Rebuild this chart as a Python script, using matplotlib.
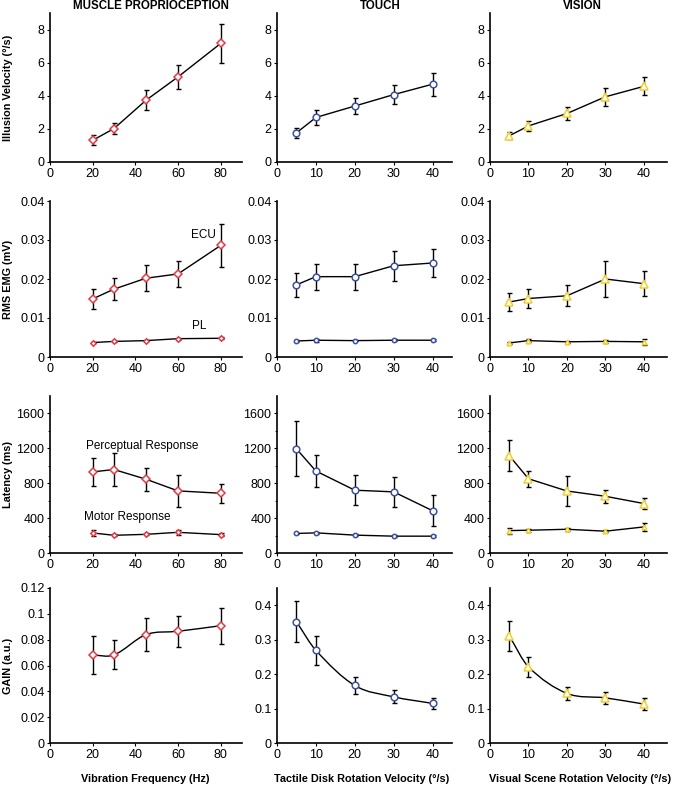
import numpy as np
import matplotlib
matplotlib.use("Agg")
import matplotlib.pyplot as plt
from matplotlib.path import Path
from matplotlib.patches import PathPatch

plt.rcParams['font.family'] = ['Liberation Sans', 'DejaVu Sans']

# x values
freq = [20, 30, 45, 60, 80]
vel = [5, 10, 20, 30, 40]

# illusion velocity (deg/s)
iv_muscle = [1.31, 2.02, 3.73, 5.14, 7.16]
iv_muscle_err = [0.30, 0.33, 0.60, 0.73, 1.18]
iv_touch = [1.76, 2.69, 3.38, 4.07, 4.70]
iv_touch_err = [0.30, 0.43, 0.46, 0.56, 0.70]
iv_vision = [1.58, 2.18, 2.93, 3.94, 4.57]
iv_vision_err = [0.22, 0.32, 0.37, 0.55, 0.55]

# RMS EMG (mV), upper = ECU, lower = PL
emg_muscle_ecu = [0.0149, 0.0174, 0.0202, 0.0213, 0.0286]
emg_muscle_ecu_err = [0.0026, 0.0028, 0.0034, 0.0033, 0.0055]
emg_muscle_pl = [0.0037, 0.0040, 0.0042, 0.0047, 0.0048]
emg_muscle_pl_err = [0.0002, 0.0002, 0.0002, 0.0003, 0.0003]
emg_touch_hi = [0.0185, 0.0206, 0.0206, 0.0234, 0.0241]
emg_touch_hi_err = [0.0030, 0.0033, 0.0033, 0.0038, 0.0036]
emg_touch_lo = [0.0041, 0.0043, 0.0042, 0.0043, 0.0043]
emg_touch_lo_err = [0.0002, 0.0004, 0.0002, 0.0003, 0.0003]
emg_vision_hi = [0.0141, 0.0150, 0.0157, 0.0200, 0.0188]
emg_vision_hi_err = [0.0024, 0.0025, 0.0027, 0.0045, 0.0032]
emg_vision_lo = [0.0036, 0.0042, 0.0039, 0.0040, 0.0039]
emg_vision_lo_err = [0.0003, 0.0004, 0.0003, 0.0003, 0.0008]

# latency (ms)
lat_muscle_perc = [930, 957, 846, 712, 685]
lat_muscle_perc_err = [160, 185, 130, 180, 110]
lat_muscle_mot = [230, 203, 214, 237, 211]
lat_muscle_mot_err = [38, 10, 12, 30, 15]
lat_touch_perc = [1194, 940, 720, 701, 485]
lat_touch_perc_err = [315, 185, 170, 175, 175]
lat_touch_mot = [224, 231, 205, 193, 193]
lat_touch_mot_err = [8, 10, 15, 8, 15]
lat_vision_perc = [1116, 851, 711, 650, 567]
lat_vision_perc_err = [180, 90, 170, 75, 65]
lat_vision_mot = [257, 261, 272, 250, 299]
lat_vision_mot_err = [35, 15, 15, 10, 50]

# gain (a.u.)
gain_muscle = [0.0680, 0.0682, 0.0839, 0.0865, 0.0908]
gain_muscle_err = [0.0147, 0.0112, 0.0130, 0.0118, 0.0140]
gain_touch = [0.352, 0.269, 0.167, 0.134, 0.115]
gain_touch_err = [0.060, 0.042, 0.024, 0.019, 0.017]
gain_vision = [0.311, 0.221, 0.144, 0.131, 0.113]
gain_vision_err = [0.043, 0.030, 0.019, 0.018, 0.017]

titles = ['MUSCLE PROPRIOCEPTION', 'TOUCH', 'VISION']
xlabels = ['Vibration Frequency (Hz)', 'Tactile Disk Rotation Velocity (\u00b0/s)',
           'Visual Scene Rotation Velocity (\u00b0/s)']
ylabels = ['Illusion Velocity (\u00b0/s)', 'RMS EMG (mV)', 'Latency (ms)', 'GAIN (a.u.)']

RED = '#e23a44'
BLUE = '#3f5199'
YEL = '#f0cf2a'

W, H = 677, 785
fig = plt.figure(figsize=(W / 100, H / 100), dpi=100)

cols = [(50, 242), (277, 452), (490, 667)]
rows = [(13, 162), (201, 357), (396, 553), (588, 743)]


def make_ax(r, c):
    l, rr = cols[c]
    t, b = rows[r]
    ax = fig.add_axes([l / W, 1 - b / H, (rr - l) / W, (b - t) / H])
    for s in ['top', 'right']:
        ax.spines[s].set_visible(False)
    for s in ['left', 'bottom']:
        ax.spines[s].set_linewidth(1.2)
    ax.tick_params(labelsize=9, length=2.5, width=0.8, pad=1.5)
    return ax


def smooth_path(x, y):
    # catmull-rom style cubic bezier through the points
    x = np.asarray(x, float)
    y = np.asarray(y, float)
    n = len(x)
    m = np.zeros(n)
    for i in range(n):
        if i == 0:
            m[i] = (y[1] - y[0]) / (x[1] - x[0])
        elif i == n - 1:
            m[i] = (y[-1] - y[-2]) / (x[-1] - x[-2])
        else:
            m[i] = (y[i + 1] - y[i - 1]) / (x[i + 1] - x[i - 1])
    verts = [(x[0], y[0])]
    codes = [Path.MOVETO]
    for i in range(n - 1):
        dx = x[i + 1] - x[i]
        verts += [(x[i] + dx / 3, y[i] + m[i] * dx / 3),
                  (x[i + 1] - dx / 3, y[i + 1] - m[i + 1] * dx / 3),
                  (x[i + 1], y[i + 1])]
        codes += [Path.CURVE4] * 3
    return Path(verts, codes)


def series(ax, x, y, e, marker, color, ms, smooth=False):
    if smooth:
        ax.add_patch(PathPatch(smooth_path(x, y), fill=False, edgecolor='black', lw=1.0, zorder=2))
    else:
        ax.plot(x, y, color='black', lw=1.0, zorder=2)
    ax.errorbar(x, y, yerr=e, fmt='none', ecolor='black', elinewidth=1.0,
                capsize=1.8, capthick=1.0, zorder=3)
    ax.plot(x, y, linestyle='none', marker=marker, ms=ms, mfc='white',
            mec=color, mew=1.1, zorder=4)


specs = [('D', RED, 4.3, freq), ('o', BLUE, 4.8, vel), ('^', YEL, 5.2, vel)]

# row 1
data_iv = [(iv_muscle, iv_muscle_err), (iv_touch, iv_touch_err), (iv_vision, iv_vision_err)]
# row 2
data_emg = [(emg_muscle_ecu, emg_muscle_ecu_err, emg_muscle_pl, emg_muscle_pl_err),
            (emg_touch_hi, emg_touch_hi_err, emg_touch_lo, emg_touch_lo_err),
            (emg_vision_hi, emg_vision_hi_err, emg_vision_lo, emg_vision_lo_err)]
# row 3
data_lat = [(lat_muscle_perc, lat_muscle_perc_err, lat_muscle_mot, lat_muscle_mot_err),
            (lat_touch_perc, lat_touch_perc_err, lat_touch_mot, lat_touch_mot_err),
            (lat_vision_perc, lat_vision_perc_err, lat_vision_mot, lat_vision_mot_err)]
# row 4
data_gain = [(gain_muscle, gain_muscle_err), (gain_touch, gain_touch_err),
             (gain_vision, gain_vision_err)]

for c in range(3):
    mk, col, ms, x = specs[c]
    xmax = 90 if c == 0 else (45 if c == 1 else 46)
    xt = [0, 20, 40, 60, 80] if c == 0 else [0, 10, 20, 30, 40]

    ax = make_ax(0, c)
    series(ax, x, data_iv[c][0], data_iv[c][1], mk, col, ms)
    ax.set_ylim(0, 9)
    ax.set_yticks([0, 2, 4, 6, 8])

    ax2 = make_ax(1, c)
    hi, hie, lo, loe = data_emg[c]
    series(ax2, x, hi, hie, mk, col, ms)
    series(ax2, x, lo, loe, mk, col, ms * 0.65)
    ax2.set_ylim(0, 0.04)
    ax2.set_yticks([0, 0.01, 0.02, 0.03, 0.04])
    ax2.set_yticklabels(['0', '0.01', '0.02', '0.03', '0.04'])

    ax3 = make_ax(2, c)
    hi, hie, lo, loe = data_lat[c]
    series(ax3, x, hi, hie, mk, col, ms)
    series(ax3, x, lo, loe, mk, col, ms * 0.65)
    ax3.set_ylim(0, 1800)
    ax3.set_yticks([0, 400, 800, 1200, 1600])
    ax3.set_yticks(np.arange(0, 1800, 200), minor=True)
    ax3.tick_params(which='minor', length=1.5, width=0.6)

    ax4 = make_ax(3, c)
    series(ax4, x, data_gain[c][0], data_gain[c][1], mk, col, ms, smooth=True)
    if c == 0:
        ax4.set_ylim(0, 0.12)
        ax4.set_yticks([0, 0.02, 0.04, 0.06, 0.08, 0.1, 0.12])
        ax4.set_yticklabels(['0', '0.02', '0.04', '0.06', '0.08', '0.1', '0.12'])
    else:
        ax4.set_ylim(0, 0.45)
        ax4.set_yticks([0, 0.1, 0.2, 0.3, 0.4])
        ax4.set_yticklabels(['0', '0.1', '0.2', '0.3', '0.4'])

    for a in (ax, ax2, ax3, ax4):
        a.set_xlim(0, xmax)
        a.set_xticks(xt)

    if c == 0:
        ax2.text(72, 0.0314, 'ECU', fontsize=8.5, ha='center', va='center')
        ax2.text(70, 0.0080, 'PL', fontsize=8.5, ha='center', va='center')
        ax3.text(43, 1225, 'Perceptual Response', fontsize=8.5, ha='center', va='center')
        ax3.text(36, 413, 'Motor Response', fontsize=8.5, ha='center', va='center')

# column titles
for x_px, t in zip([151, 380, 582], titles):
    fig.text(x_px / W, 1 - 6 / H, t, fontsize=8.3, fontweight='bold', ha='center', va='center')

# x labels
for x_px, t in zip([145, 362, 580], xlabels):
    fig.text(x_px / W, 1 - 779 / H, t, fontsize=7.8, fontweight='bold', ha='center', va='center')

# y labels
for (t, b), lab in zip(rows, ylabels):
    fig.text(8 / W, 1 - ((t + b) / 2) / H, lab, fontsize=7.8, fontweight='bold',
             rotation=90, ha='center', va='center')

fig.savefig('out.png', dpi=100)
